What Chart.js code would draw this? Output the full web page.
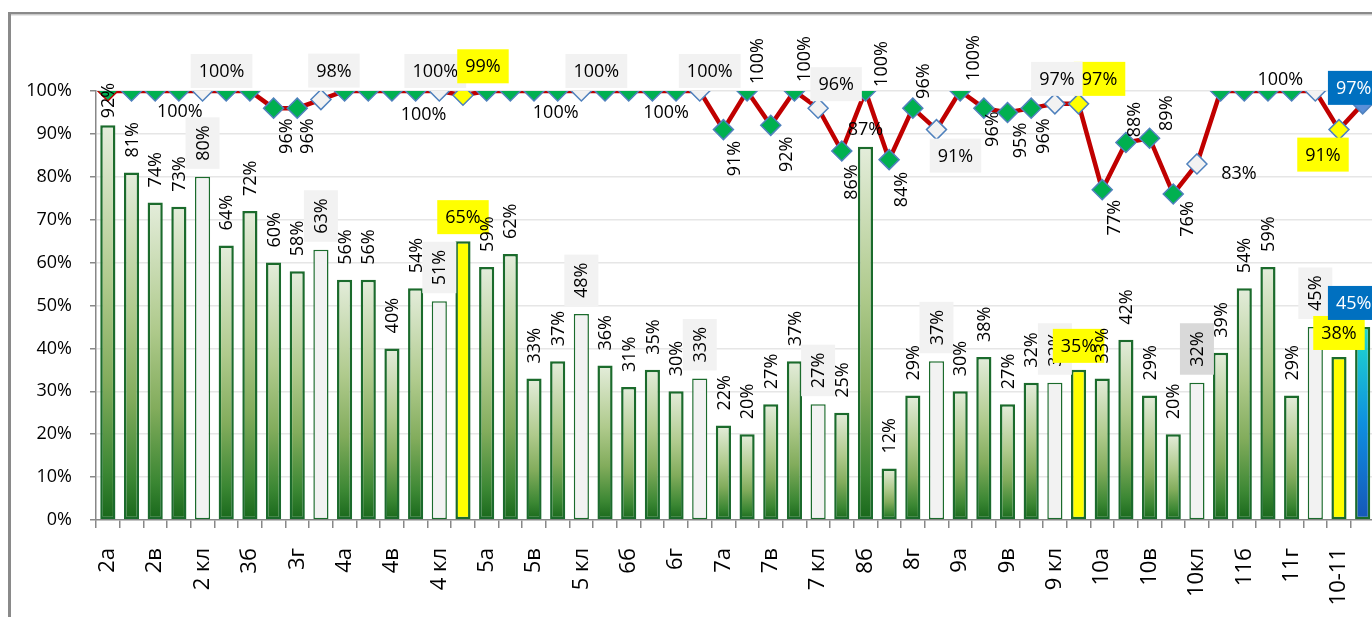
<!DOCTYPE html>
<html>
<head>
<meta charset="utf-8">
<script src="https://cdn.jsdelivr.net/npm/chart.js@4.4.0/dist/chart.umd.min.js"></script>
<style>
    html, body { margin: 0; padding: 0; background: #fff; overflow: hidden; }
    #wrap { position: relative; width: 1386px; height: 617px; }
</style>
</head>
<body>
<div id="wrap"><canvas id="chart"></canvas></div>
<script>
// Classes (every other one is shown on the axis)
const classes = [
    '2а', '2б', '2в', '2г', '2 кл', '3а', '3б', '3в', '3г', '3 кл',
    '4а', '4б', '4в', '4г', '4 кл', '2-4', '5а', '5б', '5в', '5г',
    '5 кл', '6а', '6б', '6в', '6г', '6 кл', '7а', '7б', '7в', '7г',
    '7 кл', '8а', '8б', '8в', '8г', '8 кл', '9а', '9б', '9в', '9г',
    '9 кл', '5-9', '10а', '10б', '10в', '10г', '10кл', '11а', '11б', '11в',
    '11г', '11 кл', '10-11', 'школа'
];

// Bars (%)
const qualityValues = [
    92, 81, 74, 73, 80, 64, 72, 60, 58, 63,
    56, 56, 40, 54, 51, 65, 59, 62, 33, 37,
    48, 36, 31, 35, 30, 33, 22, 20, 27, 37,
    27, 25, 87, 12, 29, 37, 30, 38, 27, 32,
    32, 35, 33, 42, 29, 20, 32, 39, 54, 59,
    29, 45, 38, 45
];

// Line (%)
const successValues = [
    100, 100, 100, 100, 100, 100, 100, 96, 96, 98,
    100, 100, 100, 100, 100, 99, 100, 100, 100, 100,
    100, 100, 100, 100, 100, 100, 91, 100, 92, 100,
    96, 86, 100, 84, 96, 91, 100, 96, 95, 96,
    97, 97, 77, 88, 89, 76, 83, 100, 100, 100,
    100, 100, 91, 97
];

const yTicks = [0, 10, 20, 30, 40, 50, 60, 70, 80, 90, 100];

// which categories are totals (styling only)
const parallelIdx = [4, 9, 14, 20, 25, 30, 35, 40, 46, 51];
const summaryIdx = [15, 41, 52];
const schoolIdx = 53;

// line label placement: [index, kind, dx, dy]
const lineLabelSpots = [
    [3, 'plain', 1, 20], [4, 'gray', 19, -20], [7, 'rot', 12, 28], [8, 'rot', 10, 28],
    [9, 'gray', 13, -29], [13, 'plain', 8, 23], [14, 'gray', -4, -20], [15, 'yellow', 20, -29],
    [19, 'plain', -2, 21], [20, 'gray', 15, -20], [24, 'plain', -10, 21], [25, 'gray', 10, -20],
    [26, 'rot', 10, 29], [27, 'rot', 10, -30], [28, 'rot', 15, 29], [29, 'rot', 9, -32],
    [30, 'gray', 18, -24], [31, 'rot', 9, 31], [32, 'rot', 15, -27], [33, 'rot', 12, 30],
    [34, 'rot', 10, -27], [35, 'gray', 19, 26], [36, 'rot', 13, -33], [37, 'rot', 8, 21],
    [38, 'rot', 12, 28], [39, 'rot', 12, 28], [41, 'yellow', 21, -25], [40, 'gray', 2, -25],
    [42, 'rot', 12, 28], [43, 'rot', 8, -23], [44, 'rot', 16, -25], [45, 'rot', 14, 25],
    [46, 'plain', 42, 9], [51, 'plain', -35, -12], [52, 'yellow', -16, 25], [53, 'blue', -9, -16]
];

const FONT = '"Open Sans", "Liberation Sans", sans-serif';

function barFill(ctx) {
    const i = ctx.dataIndex;
    if (parallelIdx.includes(i)) return '#f2f2f2';
    if (summaryIdx.includes(i)) return '#ffff00';
    const chart = ctx.chart;
    if (!chart.chartArea) return '#7faa5a';
    const y = chart.scales.y;
    const top = y.getPixelForValue(ctx.raw);
    const base = y.getPixelForValue(0);
    const g = chart.ctx.createLinearGradient(0, base, 0, top);
    if (i === schoolIdx) {
        g.addColorStop(0, '#1656b8');
        g.addColorStop(0.5, '#0e8fe0');
        g.addColorStop(1, '#20dccc');
    } else {
        g.addColorStop(0, '#18671b');
        g.addColorStop(0.12, '#3b8733');
        g.addColorStop(0.35, '#82ac5c');
        g.addColorStop(0.6, '#afca8c');
        g.addColorStop(1, '#e4eddb');
    }
    return g;
}

function markerFill(i) {
    if (parallelIdx.includes(i)) return '#f2f2f2';
    if (summaryIdx.includes(i)) return '#ffff00';
    if (i === schoolIdx) return '#5a8fd8';
    return '#00b050';
}

function drawText(c, text, x, y, rot, box, color) {
    c.save();
    c.translate(x, y);
    if (rot) c.rotate(-Math.PI / 2);
    c.font = '18px ' + FONT;
    const w = c.measureText(text).width;
    if (box) {
        c.fillStyle = box;
        c.fillRect(-w / 2 - 8, -17, w + 16, 34);
    }
    c.fillStyle = color || '#000';
    c.textAlign = 'center';
    c.textBaseline = 'middle';
    c.fillText(text, 0, 1);
    c.restore();
}

const framePlugin = {
    id: 'frame',
    beforeDraw(chart) {
        const c = chart.ctx;
        c.save();
        c.fillStyle = '#fff';
        c.fillRect(0, 0, chart.width, chart.height);
        c.fillStyle = '#8a8a8a';
        c.fillRect(8, 12, chart.width, 2.5);
        c.fillRect(8, 12, 3, chart.height);
        c.fillStyle = '#d0d0d0';
        c.fillRect(11, 14.5, chart.width, 1);
        c.restore();
    }
};

const labelPlugin = {
    id: 'valueLabels',
    afterDatasetsDraw(chart) {
        const c = chart.ctx;
        const bars = chart.getDatasetMeta(0).data;
        const pts = chart.getDatasetMeta(1).data;

        bars.forEach((bar, i) => {
            const txt = qualityValues[i] + '%';
            const top = bar.y;
            c.save();
            c.font = '18px ' + FONT;
            const w = c.measureText(txt).width;
            c.restore();
            if (summaryIdx.includes(i)) {
                drawText(c, txt, bar.x, top - 7 - 17, false, '#ffff00');
            } else if (i === schoolIdx) {
                drawText(c, txt, bar.x - 9, top - 7 - 17, false, '#0070c0', '#fff');
            } else if (i === 32) {
                drawText(c, txt, bar.x, top - 18, false);
            } else if (parallelIdx.includes(i)) {
                drawText(c, txt, bar.x, top - 16 - w / 2, true, i === 46 ? '#d9d9d9' : '#f2f2f2');
            } else {
                const gap = i === 0 ? 7 : 15;
                drawText(c, txt, bar.x, top - gap - w / 2, true);
            }
        });

        lineLabelSpots.forEach(([i, kind, dx, dy]) => {
            const p = pts[i];
            const txt = successValues[i] + '%';
            const x = p.x + dx, y = p.y + dy;
            if (kind === 'rot') drawText(c, txt, x, y, true);
            else if (kind === 'plain') drawText(c, txt, x, y, false);
            else if (kind === 'gray') drawText(c, txt, x, y, false, '#f2f2f2');
            else if (kind === 'yellow') drawText(c, txt, x, y, false, '#ffff00');
            else if (kind === 'blue') drawText(c, txt, x, y, false, '#0070c0', '#fff');
        });
    }
};

new Chart(document.getElementById('chart'), {
    type: 'bar',
    data: {
        labels: classes,
        datasets: [{
            type: 'bar',
            data: qualityValues,
            order: 1,
            backgroundColor: barFill,
            borderColor: '#1b6b2c',
            borderWidth: (ctx) => parallelIdx.includes(ctx.dataIndex) ? 1.5 : 2.5,
            borderSkipped: false,
            barPercentage: 0.64,
            categoryPercentage: 1
        }, {
            type: 'line',
            data: successValues,
            order: 0,
            borderColor: '#c00000',
            borderWidth: 4.5,
            tension: 0,
            pointStyle: 'rectRot',
            pointRadius: 10,
            pointBorderWidth: 1.5,
            pointBorderColor: successValues.map((_, i) => i === 0 ? '#c00000' : '#4f81bd'),
            pointBackgroundColor: successValues.map((_, i) => markerFill(i))
        }]
    },
    options: {
        responsive: true,
        maintainAspectRatio: false,
        animation: false,
        layout: { padding: { top: 91, right: 2, bottom: 0, left: 0 } },
        plugins: { legend: { display: false }, tooltip: { enabled: false } },
        scales: {
            x: {
                offset: true,
                grid: { display: true, drawOnChartArea: false, offset: true, tickLength: 8, tickColor: '#888', lineWidth: 1.5 },
                border: { color: '#888', width: 1.5 },
                ticks: {
                    autoSkip: false,
                    minRotation: 90,
                    maxRotation: 90,
                    padding: 20,
                    color: '#000',
                    font: { family: FONT, size: 22 },
                    callback: (v, i) => i % 2 === 0 ? classes[i] : ''
                },
                afterFit: (s) => { s.height = 97; s.paddingLeft = 0; s.paddingRight = 0; }
            },
            y: {
                min: 0,
                max: 100,
                afterBuildTicks: (s) => { s.ticks = yTicks.map(v => ({ value: v })); },
                grid: {
                    color: (ctx) => ctx.tick && ctx.tick.value === 0 ? 'rgba(0,0,0,0)' : '#e6e6e6',
                    lineWidth: 1.5,
                    tickLength: 6,
                    tickColor: '#888'
                },
                border: { color: '#888', width: 1.5 },
                ticks: {
                    padding: 18,
                    color: '#000',
                    font: { family: FONT, size: 18 },
                    callback: (v) => v + '%'
                },
                afterFit: (s) => { s.width = 96; s.paddingTop = 0; s.paddingBottom = 0; }
            }
        }
    },
    plugins: [framePlugin, labelPlugin]
});
</script>
</body>
</html>
